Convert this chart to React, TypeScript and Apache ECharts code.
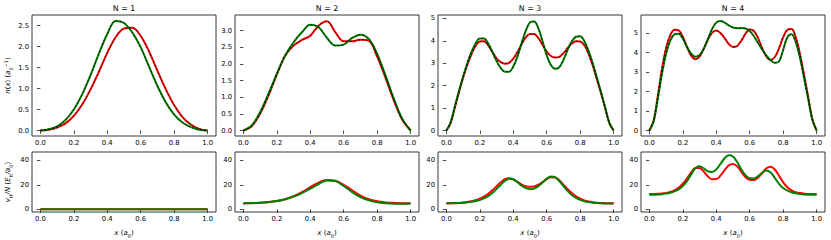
import React, { useEffect, useRef } from "react";
import * as echarts from "echarts";

// ---------- data ----------
const X21 = [0, 0.05, 0.1, 0.15, 0.2, 0.25, 0.3, 0.35, 0.4, 0.45, 0.5, 0.55, 0.6, 0.65, 0.7, 0.75, 0.8, 0.85, 0.9, 0.95, 1.0];
const X41 = [0, 0.025, 0.05, 0.075, 0.1, 0.125, 0.15, 0.175, 0.2, 0.225, 0.25, 0.275, 0.3, 0.325, 0.35, 0.375, 0.4, 0.425, 0.45, 0.475, 0.5, 0.525, 0.55, 0.575, 0.6, 0.625, 0.65, 0.675, 0.7, 0.725, 0.75, 0.775, 0.8, 0.825, 0.85, 0.875, 0.9, 0.925, 0.95, 0.975, 1.0];

const TITLES = ["N = 1", "N = 2", "N = 3", "N = 4"];
const X_TICKS = [0, 0.2, 0.4, 0.6, 0.8, 1.0];
const TOP_Y_TICKS = [
  [0, 0.5, 1.0, 1.5, 2.0, 2.5],
  [0, 0.5, 1.0, 1.5, 2.0, 2.5, 3.0],
  [0, 1, 2, 3, 4, 5],
  [0, 1, 2, 3, 4, 5],
];
const TOP_Y_DECIMALS = [1, 1, 0, 0];
const TOP_Y_RANGE = [
  [-0.131, 2.751],
  [-0.165, 3.47],
  [-0.245, 5.15],
  [-0.28, 5.94],
];
const BOTTOM_Y_TICKS = [0, 20, 40];
const BOTTOM_Y_RANGE = [-2.2, 46.7];

// density n(x), N = 1
const N1_RED = [0, 0.02, 0.07, 0.17, 0.35, 0.62, 0.98, 1.4, 1.85, 2.22, 2.43, 2.45, 2.25, 1.88, 1.42, 0.98, 0.6, 0.32, 0.14, 0.04, 0];
const N1_GREEN = [0, 0.03, 0.1, 0.25, 0.5, 0.86, 1.32, 1.83, 2.3, 2.61, 2.56, 2.33, 1.98, 1.52, 1.06, 0.67, 0.38, 0.19, 0.08, 0.02, 0];
// N = 2
const N2_RED = [0, 0.13, 0.5, 1.05, 1.68, 2.25, 2.55, 2.72, 2.85, 3.15, 3.28, 2.95, 2.68, 2.68, 2.73, 2.7, 2.22, 1.58, 0.9, 0.32, 0];
const N2_GREEN = [0, 0.15, 0.55, 1.1, 1.7, 2.25, 2.65, 2.95, 3.18, 3.1, 2.78, 2.55, 2.58, 2.78, 2.88, 2.75, 2.3, 1.65, 0.95, 0.35, 0];
// N = 3
const N3_RED = [0, 0.33, 1.0, 1.7, 2.35, 2.92, 3.4, 3.78, 3.97, 3.98, 3.8, 3.5, 3.22, 3.05, 2.98, 3.02, 3.2, 3.5, 3.85, 4.15, 4.3, 4.3, 4.12, 3.82, 3.52, 3.32, 3.25, 3.28, 3.45, 3.68, 3.88, 3.98, 3.97, 3.8, 3.42, 2.9, 2.28, 1.65, 0.98, 0.32, 0];
const N3_GREEN = [0, 0.35, 1.05, 1.75, 2.4, 3.0, 3.5, 3.88, 4.1, 4.1, 3.88, 3.5, 3.1, 2.78, 2.62, 2.62, 2.85, 3.3, 3.9, 4.45, 4.82, 4.86, 4.55, 3.98, 3.35, 2.92, 2.75, 2.82, 3.15, 3.6, 3.98, 4.18, 4.2, 3.98, 3.55, 3.0, 2.35, 1.7, 1.0, 0.33, 0];
// N = 4
const N4_RED = [0, 0.5, 1.75, 3.15, 4.25, 4.9, 5.18, 5.15, 4.82, 4.3, 3.85, 3.67, 3.8, 4.2, 4.68, 5.02, 5.14, 5.02, 4.75, 4.45, 4.3, 4.35, 4.62, 4.98, 5.2, 5.12, 4.75, 4.22, 3.8, 3.63, 3.78, 4.22, 4.8, 5.18, 5.22, 4.8, 3.95, 2.85, 1.7, 0.55, 0];
const N4_GREEN = [0, 0.45, 1.6, 2.9, 3.95, 4.62, 4.95, 4.98, 4.72, 4.3, 3.95, 3.8, 3.88, 4.2, 4.7, 5.22, 5.55, 5.63, 5.55, 5.4, 5.3, 5.26, 5.27, 5.25, 5.12, 4.85, 4.5, 4.15, 3.85, 3.62, 3.48, 3.55, 4.15, 4.8, 4.95, 4.55, 3.75, 2.7, 1.6, 0.55, 0];

// potential v_H/N, N = 1..4
const V1_RED = [0, 0, 0, 0, 0, 0, 0, 0, 0, 0, 0, 0, 0, 0, 0, 0, 0, 0, 0, 0, 0];
const V1_GREEN = [0, 0, 0, 0, 0, 0, 0, 0, 0, 0, 0, 0, 0, 0, 0, 0, 0, 0, 0, 0, 0];
const V2_RED = [4.8, 5.0, 5.3, 5.8, 6.7, 8.2, 10.6, 14.0, 18.0, 21.8, 23.8, 23.2, 20.0, 15.5, 11.2, 8.2, 6.5, 5.6, 5.2, 5.0, 5.0];
const V2_GREEN = [5.0, 5.1, 5.4, 5.9, 6.8, 8.2, 10.3, 13.2, 16.8, 20.6, 23.5, 23.0, 19.0, 14.0, 10.0, 7.3, 5.8, 5.0, 4.6, 4.6, 4.8];
const V3_RED = [4.8, 4.9, 5.0, 5.2, 5.5, 5.9, 6.5, 7.4, 8.6, 10.3, 12.6, 15.5, 18.8, 22.0, 24.5, 25.3, 24.4, 22.4, 20.2, 18.8, 18.3, 18.7, 20.0, 22.2, 24.6, 26.2, 26.0, 23.6, 20.0, 16.4, 13.2, 10.6, 8.7, 7.3, 6.4, 5.8, 5.4, 5.1, 5.0, 4.9, 4.9];
const V3_GREEN = [5.0, 5.0, 5.1, 5.2, 5.4, 5.7, 6.1, 6.7, 7.6, 8.9, 10.8, 13.3, 16.5, 20.0, 23.2, 25.0, 24.5, 22.0, 19.2, 17.2, 16.4, 16.9, 18.8, 21.8, 25.0, 26.8, 26.2, 23.0, 18.8, 14.8, 11.6, 9.3, 7.7, 6.6, 5.9, 5.4, 5.1, 4.9, 4.8, 4.8, 4.8];
const V4_RED = [12.4, 12.5, 12.6, 12.9, 13.4, 14.2, 15.5, 17.6, 20.8, 25.2, 30.0, 33.6, 33.6, 30.8, 26.8, 24.5, 24.6, 27.4, 32.0, 35.8, 37.0, 35.0, 30.5, 26.2, 24.0, 23.8, 25.8, 29.6, 33.4, 34.7, 32.4, 27.4, 22.0, 18.0, 15.5, 14.0, 13.2, 12.7, 12.5, 12.4, 12.4];
const V4_GREEN = [11.8, 11.9, 12.0, 12.3, 12.8, 13.5, 14.6, 16.3, 19.0, 23.0, 28.5, 33.5, 35.0, 33.4, 31.0, 30.5, 32.5, 37.0, 41.6, 44.0, 43.0, 38.5, 32.5, 27.6, 25.3, 25.2, 27.0, 30.0, 31.7, 30.0, 25.5, 20.8, 17.3, 15.2, 13.9, 13.0, 12.5, 12.1, 11.9, 11.8, 11.8];

const TOP_PANELS = [
  { xs: X21, red: N1_RED, green: N1_GREEN },
  { xs: X21, red: N2_RED, green: N2_GREEN },
  { xs: X41, red: N3_RED, green: N3_GREEN },
  { xs: X41, red: N4_RED, green: N4_GREEN },
];
const BOTTOM_PANELS = [
  { xs: X21, red: V1_RED, green: V1_GREEN },
  { xs: X21, red: V2_RED, green: V2_GREEN },
  { xs: X41, red: V3_RED, green: V3_GREEN },
  { xs: X41, red: V4_RED, green: V4_GREEN },
];

// ---------- layout / style ----------
const FONT = "DejaVu Sans";
const LEFTS = [32, 235, 438, 641];
const PW = 184;
const TOP_T = 15;
const TOP_H = 121;
const BOT_T = 152;
const BOT_H = 60;
const RED = "#ff0000";
const GREEN = "#008000";
const INK = "#000000";
const TICK_FS = 6.8;

function pairs(xs: number[], ys: number[]) {
  return xs.map((x, i) => [x, ys[i]]);
}

function lineSeries(idx: number, xs: number[], ys: number[], color: string, width: number, z: number, dashed = false) {
  return {
    type: "line",
    xAxisIndex: idx,
    yAxisIndex: idx,
    data: pairs(xs, ys),
    symbol: "none",
    showSymbol: false,
    smooth: 0.35,
    silent: true,
    z,
    lineStyle: { color, width, type: dashed ? [2, 2] : "solid", cap: "butt" },
  };
}

const richX = {
  i: { fontFamily: FONT, fontStyle: "italic", fontSize: 7, color: INK, lineHeight: 10 },
  n: { fontFamily: FONT, fontSize: 7, color: INK, lineHeight: 10 },
  s: { fontFamily: FONT, fontSize: 5, color: INK, lineHeight: 10, verticalAlign: "bottom", padding: [3, 0, 0, 0] },
  sup: { fontFamily: FONT, fontSize: 5, color: INK, lineHeight: 10, verticalAlign: "top" },
};

function buildOption() {
  const grid: any[] = [];
  const xAxis: any[] = [];
  const yAxis: any[] = [];
  const series: any[] = [];

  const axisCommon = (idx: number) => ({
    gridIndex: idx,
    type: "value",
    axisLine: { show: false },
    splitLine: { show: false },
  });

  for (let r = 0; r < 2; r++) {
    for (let c = 0; c < 4; c++) {
      const idx = r * 4 + c;
      grid.push({
        left: LEFTS[c],
        top: r === 0 ? TOP_T : BOT_T,
        width: PW,
        height: r === 0 ? TOP_H : BOT_H,
        show: true,
        borderColor: "#222",
        borderWidth: 0.9,
        backgroundColor: "#ffffff",
        containLabel: false,
      });
      xAxis.push({
        ...axisCommon(idx),
        min: -0.05,
        max: 1.05,
        axisTick: { show: true, customValues: X_TICKS, length: 3.5, lineStyle: { color: "#222", width: 0.8 } },
        axisLabel: {
          show: true,
          customValues: X_TICKS,
          formatter: (v: number) => v.toFixed(1),
          fontFamily: FONT,
          fontSize: TICK_FS,
          color: INK,
          margin: 3,
        },
        ...(r === 1
          ? {
              name: "{i|x} {n|(}{i|a}{s|0}{n|)}",
              nameLocation: "middle",
              nameGap: 16,
              nameTextStyle: { rich: richX, fontFamily: FONT, fontSize: 7 },
            }
          : {}),
      });
      const yTicks = r === 0 ? TOP_Y_TICKS[c] : BOTTOM_Y_TICKS;
      const yRange = r === 0 ? TOP_Y_RANGE[c] : BOTTOM_Y_RANGE;
      const dec = r === 0 ? TOP_Y_DECIMALS[c] : 0;
      let nameOpts: any = {};
      if (c === 0 && r === 0) {
        nameOpts = {
          name: "{i|n}{n|(}{i|x}{n|) (}{i|a}{s|0}{sup|−1}{n|)}",
          nameLocation: "middle",
          nameRotate: 90,
          nameGap: 19,
          nameTextStyle: { rich: richX, fontFamily: FONT, fontSize: 7 },
        };
      } else if (c === 0 && r === 1) {
        nameOpts = {
          name: "{i|v}{s|H}{i|/N} {n|(}{i|E}{s|h}{i|/a}{s|0}{n|)}",
          nameLocation: "middle",
          nameRotate: 90,
          nameGap: 19,
          nameTextStyle: { rich: richX, fontFamily: FONT, fontSize: 7 },
        };
      }
      yAxis.push({
        ...axisCommon(idx),
        min: yRange[0],
        max: yRange[1],
        axisTick: { show: true, customValues: yTicks, length: 3.5, lineStyle: { color: "#222", width: 0.8 } },
        axisLabel: {
          show: true,
          customValues: yTicks,
          formatter: (v: number) => v.toFixed(dec),
          fontFamily: FONT,
          fontSize: TICK_FS,
          color: INK,
          margin: 3,
        },
        ...nameOpts,
      });

      const p = r === 0 ? TOP_PANELS[c] : BOTTOM_PANELS[c];
      if (r === 0) {
        series.push(lineSeries(idx, p.xs, p.red, RED, 2, 2));
        series.push(lineSeries(idx, p.xs, p.green, GREEN, 2, 3));
        series.push(lineSeries(idx, p.xs, p.red, "#000", 0.8, 4, true));
        series.push(lineSeries(idx, p.xs, p.green, "#000", 0.8, 4, true));
      } else {
        series.push(lineSeries(idx, p.xs, p.red, RED, 2, 2));
        series.push(lineSeries(idx, p.xs, p.green, GREEN, 2, 3));
      }
    }
  }

  const graphic = TITLES.map((t, c) => ({
    type: "text",
    x: LEFTS[c] + PW / 2,
    y: 8,
    style: {
      text: t,
      fontFamily: FONT,
      fontSize: 7.8,
      fill: INK,
      textAlign: "center",
      textVerticalAlign: "middle",
    },
  }));

  return {
    animation: false,
    backgroundColor: "#ffffff",
    grid,
    xAxis,
    yAxis,
    series,
    graphic,
  };
}

export default function App() {
  const ref = useRef<HTMLDivElement>(null);
  useEffect(() => {
    if (!ref.current) return;
    const chart = echarts.init(ref.current, undefined, { renderer: "svg" });
    chart.setOption(buildOption() as any);
    return () => chart.dispose();
  }, []);
  return (
    <div
      ref={ref}
      style={{ position: "fixed", left: 0, top: 0, width: 831, height: 240, background: "#fff" }}
    />
  );
}
